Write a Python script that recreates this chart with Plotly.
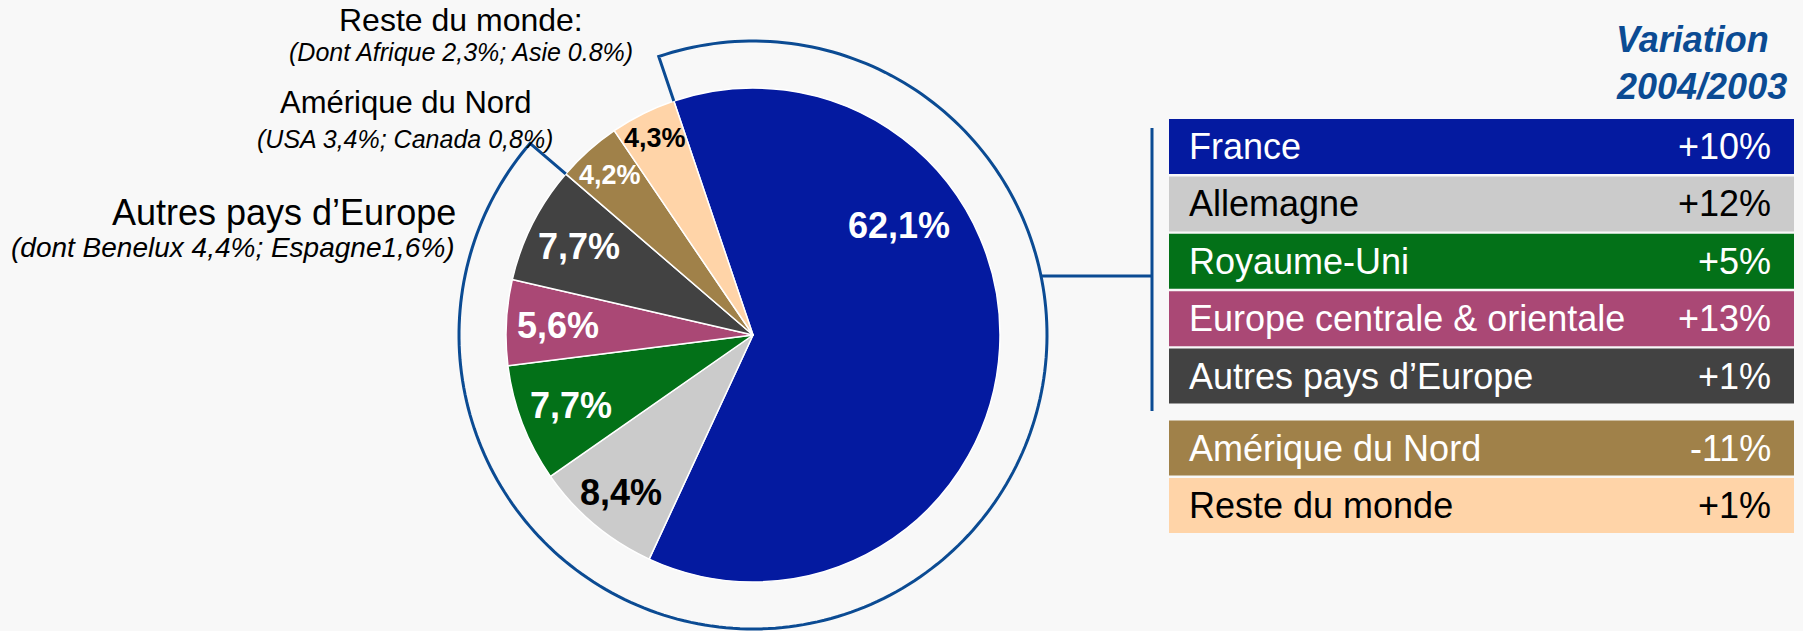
import numpy as np
import plotly.graph_objects as go

# ---------------- data ----------------
categories = ["France", "Allemagne", "Royaume-Uni", "Europe centrale & orientale",
              "Autres pays d’Europe", "Amérique du Nord", "Reste du monde"]
shares = [62.1, 8.4, 7.7, 5.6, 7.7, 4.2, 4.3]
share_labels = ["62,1%", "8,4%", "7,7%", "5,6%", "7,7%", "4,2%", "4,3%"]
variation = ["+10%", "+12%", "+5%", "+13%", "+1%", "-11%", "+1%"]
variation_title = ["Variation", "2004/2003"]
side_titles = ["Reste du monde:", "Amérique du Nord", "Autres pays d’Europe"]
side_details = ["(Dont Afrique 2,3%; Asie 0.8%)", "(USA 3,4%; Canada 0,8%)",
                "(dont Benelux 4,4%; Espagne1,6%)"]

# ---------------- style ----------------
colors = ["#041AA0", "#CBCBCB", "#037118", "#AA4875", "#424242", "#A08149", "#FFD4A8"]
text_colors = ["white", "black", "white", "white", "white", "white", "black"]
label_sizes = [36, 36, 36, 36, 36, 27, 27]
label_radius = [0.74, 0.83, 0.79, 0.79, 0.79, 0.87, 0.89]
label_angle_shift = [-40, 0, 0, 0, 0, 0, 0]
line_blue = "#0B4B93"
FONT = "Liberation Sans, Arial, sans-serif"
BG = "#F8F8F8"

W, H = 1803, 631
cx, cy, r = 753, 335, 247
R = 294
rotation = -18.7


def px(x):
    return x / W


def py(y):
    return 1 - y / H


fig = go.Figure()
fig.add_trace(go.Pie(
    labels=categories, values=shares, sort=False, direction="clockwise",
    rotation=rotation, textinfo="none", hoverinfo="label+percent",
    marker=dict(colors=colors, line=dict(color="white", width=1.5)),
    domain=dict(x=[px(cx - r), px(cx + r)], y=[py(cy + r), py(cy - r)]),
    showlegend=False,
))

annotations = []
shapes = []

# pie labels, placed from cumulative angles
bounds = rotation + np.concatenate([[0], np.cumsum(shares)]) * 3.6
for i, lab in enumerate(share_labels):
    mid = np.radians((bounds[i] + bounds[i + 1]) / 2 + label_angle_shift[i])
    rr = r * label_radius[i]
    annotations.append(dict(
        x=px(cx + rr * np.sin(mid)), y=py(cy - rr * np.cos(mid)),
        xref="paper", yref="paper", text=f"<b>{lab}</b>", showarrow=False,
        xanchor="center", yanchor="middle",
        font=dict(family=FONT, size=label_sizes[i], color=text_colors[i])))

# bracket around the European slices
a1, a2 = np.radians(bounds[0]), np.radians(bounds[5])
th = np.linspace(a1, a2, 240)
pts = [(cx + r * np.sin(a1), cy - r * np.cos(a1))]
pts += [(cx + R * np.sin(t), cy - R * np.cos(t)) for t in th]
pts += [(cx + r * np.sin(a2), cy - r * np.cos(a2))]
path = "M " + " L ".join(f"{px(x):.5f},{py(y):.5f}" for x, y in pts)
shapes.append(dict(type="path", path=path, xref="paper", yref="paper",
                   line=dict(color=line_blue, width=3)))

# connector to table
yl = 276
xl0 = cx + np.sqrt(R ** 2 - (yl - cy) ** 2)
xv = 1152
shapes.append(dict(type="line", xref="paper", yref="paper", x0=px(xl0), x1=px(xv),
                   y0=py(yl), y1=py(yl), line=dict(color=line_blue, width=3)))
shapes.append(dict(type="line", xref="paper", yref="paper", x0=px(xv), x1=px(xv),
                   y0=py(128), y1=py(411), line=dict(color=line_blue, width=3)))

# table
row_x0, row_x1 = 1169, 1794
row_top0, pitch, row_h, group_gap = 119, 57.4, 55, 14.6
for i, cat in enumerate(categories):
    top = row_top0 + i * pitch + (group_gap if i >= 5 else 0)
    shapes.append(dict(type="rect", xref="paper", yref="paper",
                       x0=px(row_x0), x1=px(row_x1), y0=py(top + row_h), y1=py(top),
                       fillcolor=colors[i], line=dict(width=0), layer="below"))
    yc = top + row_h / 2
    annotations.append(dict(x=px(1187), y=py(yc), xref="paper", yref="paper",
                            text=cat, showarrow=False, xanchor="left", yanchor="middle",
                            font=dict(family=FONT, size=36, color=text_colors[i])))
    annotations.append(dict(x=px(1773), y=py(yc), xref="paper", yref="paper",
                            text=variation[i], showarrow=False, xanchor="right",
                            yanchor="middle",
                            font=dict(family=FONT, size=36, color=text_colors[i])))

for j, t in enumerate(variation_title):
    annotations.append(dict(x=px(1614), y=py([40, 86][j]), xref="paper", yref="paper",
                            text=f"<b><i>{t}</i></b>", showarrow=False,
                            xanchor="left", yanchor="middle",
                            font=dict(family=FONT, size=36, color=line_blue)))

# side labels
title_pos = [(461, 20, "center", 32), (406, 102, "center", 31), (458, 212, "right", 36)]
detail_pos = [(461, 52, "center", 25), (405, 139, "center", 25), (457, 248, "right", 28)]
for k in range(3):
    x, y, anc, sz = title_pos[k]
    annotations.append(dict(x=px(x), y=py(y), xref="paper", yref="paper",
                            text=side_titles[k], showarrow=False, xanchor=anc,
                            yanchor="middle", font=dict(family=FONT, size=sz, color="black")))
    x, y, anc, sz = detail_pos[k]
    annotations.append(dict(x=px(x), y=py(y), xref="paper", yref="paper",
                            text=f"<i>{side_details[k]}</i>", showarrow=False, xanchor=anc,
                            yanchor="middle", font=dict(family=FONT, size=sz, color="black")))

fig.update_layout(
    width=W, height=H, margin=dict(l=0, r=0, t=0, b=0),
    paper_bgcolor=BG, plot_bgcolor=BG,
    shapes=shapes, annotations=annotations, showlegend=False,
)

fig.write_html("out.html")
